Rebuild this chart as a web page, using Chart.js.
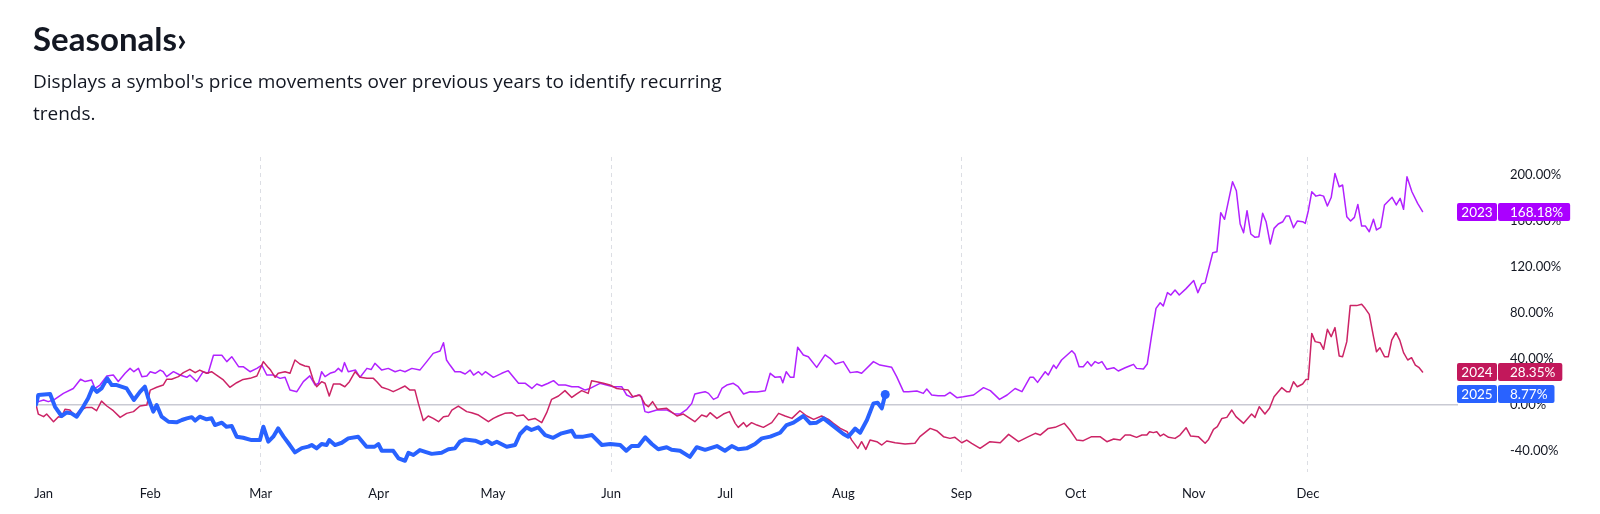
<!DOCTYPE html>
<html>
<head>
<meta charset="utf-8">
<title>Seasonals</title>
<script src="https://cdn.jsdelivr.net/npm/chart.js@4.4.1/dist/chart.umd.min.js"></script>
<style>
  body { margin: 0; background: #fff; color: #131722; font-family: Lato, "Noto Sans", sans-serif; }
  #wrap { position: relative; width: 1600px; height: 514px; overflow: hidden; }
  h2 { position: absolute; left: 33px; top: 22px; margin: 0; font-size: 33px; line-height: 33px; font-weight: 700; }
  p.sub { position: absolute; left: 33px; top: 65px; margin: 0; font-family: "Open Sans", sans-serif; font-size: 19px; line-height: 32px; }
  canvas { position: absolute; left: 0; top: 0; }
</style>
</head>
<body>
<div id="wrap">
  <canvas id="seasonals" width="1600" height="514"></canvas>
  <h2>Seasonals›</h2>
  <p class="sub">Displays a symbol's price movements over previous years to identify recurring<br>trends.</p>
</div>
<script>
// day of year (0 = Jan 1) and % change from the first day of the year
const days2025 = [
  0,0.6,3.7,5,6.7,8,9.3,10.7,12.4,13.7,
  14.9,16,17.2,18.7,19.9,21.2,23.8,25.7,27.3,28.6,
  29.5,30.8,31.7,33,34.8,36.9,38.3,39.6,40.9,41.8,
  43,44.8,46.1,47,48.8,50,51.4,52.7,54.4,56.6,
  58.8,59.7,61,62.3,63.6,65,66.3,68,69.8,71.5,
  72.4,73.7,75,76.3,77,78.5,80.3,82,84.6,86.8,
  88.9,89.9,90.8,93.8,95.2,96.9,97.8,99.1,100.8,102.2,
  103.9,106.5,108.3,110,111.3,112.7,115.3,117,118.4,119.7,
  121,123.6,125.8,127.1,128.8,130.1,131.9,133.7,135.8,138,
  140.7,141.6,143.7,146,148.6,150.8,153.4,155,156.4,158.2,
  160,161.7,163.4,165.6,166.9,169.1,171.7,173.5,175.7,178.8,
  180.9,182.7,184.4,186.6,188.8,190.6,192.8,195.4,197.1,198.9,
  201.5,203.3,205,206.8,209.4,212,213.3,215.1,216.4,218.2,
  219.9,221,222.1,223
];
const values2025 = [
  0,8.3,9.1,-2,-10,-7,-7.7,-10.6,-2,5.4,
  15,11,14,22.8,17,17,14,4,11,15.5,
  5.4,-6.2,-0.4,-10.6,-15,-15.5,-13.5,-12.1,-11,-14,
  -10.6,-12.9,-12,-17.9,-15.8,-19.3,-18.8,-28,-29,-31,
  -31,-19.3,-32.4,-28,-20.8,-28,-33.8,-41.7,-38,-36.7,
  -35.3,-38.2,-34.4,-35.3,-31,-35.3,-33.3,-29.5,-28,-36.8,
  -36.8,-34.4,-40.3,-40.3,-47,-49,-42,-44,-39.7,-41.2,
  -43,-42,-39,-38.2,-32.4,-30.4,-31.5,-33.8,-31.5,-34.4,
  -32.4,-36.8,-35.3,-25.7,-19.9,-22.2,-19.9,-26.6,-29,-25.1,
  -22.8,-28,-28,-26.6,-35.3,-34.4,-35.3,-40.3,-36.2,-36.2,
  -28.6,-34.4,-39,-37.2,-39.5,-40.3,-45.6,-37.2,-39.5,-36.2,
  -40.3,-36.2,-39,-38.2,-34.4,-29.5,-28,-24.6,-17.9,-15.8,
  -10,-16.4,-15.8,-12.1,-18.8,-25.7,-28,-21,-24.6,-13.5,
  1,1.5,-3.3,8.77
];

const days2024 = [
  0,0.6,2,2.8,4.6,5.9,6.7,7.6,8.9,10.2,
  11.6,13.3,14.6,15.9,17.2,18.6,20.3,22.1,23.8,25.6,
  27.3,29.1,30,31.7,33.4,34.3,35.6,37.4,38.7,40.4,
  41.8,43,43.9,44.8,46.1,47.4,49.2,50.9,52.7,54.4,
  56.2,58,59.7,60.8,61.6,62.8,63.6,65.4,66.7,68,
  69.3,70.6,71.7,72.8,73.7,75,75.9,77,78.1,79.8,
  81.1,82.3,83.8,85.1,86.9,88.6,89.5,90.8,92.5,93.8,
  95.1,96.9,98.2,99.5,100.4,101.7,103,104.3,105.7,107,
  108.3,109.2,110.9,113.1,114.4,116.2,117.9,118.8,120.1,121.4,
  123.1,124.9,126.2,128,129.3,131,132.8,134.1,135.4,137.2,
  138.9,140.7,142,143.3,145,145.9,147.2,149,150.7,152.5,
  154.2,155.5,156.7,158.6,159.9,160.8,161.9,163.2,165.6,168.3,
  170,173,174.8,176.1,177,178.8,180.5,182.1,183.6,184.4,
  185.8,186.6,187.9,189.3,191,193.2,195,196.7,198.5,200.6,
  202.4,204.2,206.3,208.1,209.4,211.2,213,214.2,215.8,216.8,
  217.9,219,220.8,222.1,223.4,225.6,228.2,230.8,232.1,234.8,
  236.5,238.3,240,241.3,243.1,244.4,245.7,247.9,250.5,253.2,
  255.4,258,260.2,262.4,263.7,265.8,267.6,270,271.5,273.3,
  275,277.2,279.4,281.2,283,284.7,286,287.3,289,290.4,
  291.7,292.4,293.4,294.3,295.2,296.1,297.4,299.1,300.4,302,
  303.2,305.2,307,307.9,309.2,310.2,311.4,312.7,314,315.1,
  317.1,319.2,320.1,321.2,322.7,323.9,325.1,327.1,328.4,329.2,
  330.2,331.2,332.6,333.5,334.1,335,335.9,337.2,338.1,339.1,
  340.1,341.1,342.2,343.1,344.2,345.1,346.8,348.1,349,350.1,
  351.2,352,352.9,354.1,355.1,356,357.1,358.1,359.1,360.2,
  361.2,362.2,363.1,364.1
];
const values2024 = [
  0,-8.3,-10.6,-8.3,-15,-10.6,-11.2,-4.2,-4.8,-10,
  -4.8,-2.5,-2.5,-5.4,3,-1.3,-5.4,-11.2,-7.7,-6.2,
  -1.3,-0.4,12.6,15,17,22,22,24.3,27.8,30.7,
  27.8,30,28.6,27.2,28.6,25.7,21.4,15,19,21.9,
  22.8,24.9,37.4,33,30,23.7,27.2,28.6,27.2,38.8,
  35.3,33.6,33,21.4,15.5,19.9,18.5,7.4,17.9,17.9,
  15.5,19.9,28.6,23.7,22.8,22.8,19.9,15,13.2,11.2,
  13.2,16.1,12.6,12.6,1,-14,-10,-12.1,-15,-10.6,
  -10,-4.8,-1.3,-6.2,-7.1,-9.2,-12.9,-15,-12.1,-10,
  -7.7,-7.1,-10,-9.2,-13.5,-12.1,-15.8,-7.1,4.5,7.4,
  12.1,6.2,9.2,12.1,9.7,20.8,19.9,18.5,17,14,
  13.2,12.6,6.8,8.3,0.4,-1.9,2.5,-4.2,-3.3,-10,
  -8.3,-15,-9.2,-10.6,-7.1,-12.1,-8.3,-6.2,-16.4,-19.9,
  -15.8,-19.3,-15.8,-17.9,-19.9,-15.8,-7.7,-10,-12.1,-5.4,
  -10,-12.9,-10,-12.9,-16.4,-20.8,-23.7,-31,-38.2,-32.4,
  -39.1,-31,-32.4,-35.3,-31.8,-33.3,-34.4,-33.8,-28,-20.8,
  -22.8,-28,-29.5,-28.6,-33.3,-31,-33.8,-38.2,-32.4,-33.3,
  -26,-32.4,-28.6,-25.1,-26.6,-20.8,-19.9,-16.4,-22.2,-31,
  -31.5,-28,-28,-32.4,-30,-31,-26.6,-26.6,-28.6,-26.6,
  -26.6,-23.7,-24.5,-23.7,-27.5,-25.8,-28.6,-29.5,-26.6,-20.2,
  -27.5,-28,-33.8,-30.4,-21.6,-19.3,-12.1,-11.2,-4.8,-10.6,
  -16.4,-8.3,-11.2,-1.9,-8.3,-3.3,6.8,14.7,11.2,11.2,
  19.9,15.5,17.9,21.9,21.9,62,54.8,53.9,48.1,65.5,
  59.1,67,42.3,41.7,54.8,86.2,86.2,87.3,83.8,78.6,
  59.1,46,49.5,41.7,41.7,56.2,62.6,56.2,45.2,38.8,
  40.8,34.4,32.4,28.35
];

const days2023 = [
  0,0.6,2,3.2,4.6,7.2,9.8,11.7,12.9,14.6,
  15.5,16.8,18.6,20.3,21.6,23.4,24.7,25.7,26.9,27.8,
  29.1,30,31.3,32.6,33.4,34.3,36.1,37.8,39.6,40.4,
  42.2,43.9,45.2,46.6,48.8,50.1,51.4,53.2,54.4,56.2,
  58,59.3,60.6,62.3,64.1,65.4,66.7,68.5,70.2,71.9,
  73.3,74.2,75,75.9,77.2,78.5,79.4,80.3,81,82,
  83.9,85.1,86.9,88,89,90.8,92.5,94.3,95.6,96.9,
  98.7,100.8,102.6,104.3,106.1,107,107.8,108.7,110,111.4,
  112.7,114,114.9,116.2,117.1,118,120.1,122.3,124,125.4,
  126.7,128.5,130.2,131.5,132.8,134.5,135.9,137.2,139,140.7,
  142.4,144.2,145.5,148.1,149.8,151.6,153.8,155.1,156.4,158.2,
  159,159.9,160.8,163,165.6,167.8,169.1,170.9,172.2,173,
  174.4,175.7,176.6,177.9,179,180.1,181.4,183.1,184.4,185.8,
  187.5,189.3,191.5,192.8,194.1,195.5,196.1,197,198.1,199,
  200,201.5,202.8,205,207.2,208.5,209.9,212,213.8,215.6,
  216.8,219.9,221.6,224.7,226,227.8,229.1,231.3,233,233.9,
  235.2,236.9,238.7,240,241.8,243.5,246.2,248.8,250.6,253,
  255,257.1,258.9,261,261.9,263,265,265.8,267.2,267.9,
  269.3,272,272.8,273.9,275,276.1,277.1,278.1,279,279.9,
  281.2,283,284.2,286,287.3,288.2,289,290.8,291.8,292.9,
  294.1,295.2,296,297.1,298,299.1,300.2,302,304,305.1,
  306.1,307,309,310.1,311.1,312.1,314.2,315.2,316.2,317.1,
  318,319,320.1,321.1,322.1,323,324.1,325.1,326.2,327.4,
  328.3,329.1,330.2,331.2,332.6,333.3,334.1,335,336.1,337.2,
  338.1,339.1,340.1,341.1,342.2,343.1,344.2,345.2,346.2,347.1,
  348.1,349.1,350.1,351.2,352,353.1,354.1,356.1,357.2,358.2,
  359.1,360,361.3,362.8,364.1
];
const values2023 = [
  0,2.5,3.9,2.5,3.9,9.7,14,22,20,21.4,
  14,17,24.9,25.7,20,27.2,31.5,28.6,31.5,24.3,
  24.9,28.6,27.2,30,28.6,24.3,28.6,25.7,23.7,25.7,
  20,28.6,27.2,43,43,37.4,41.7,33,33,28.6,
  31.5,34.4,25.7,25.7,22.8,23.7,12.6,11.2,20,25,
  17,18.5,28.6,24.3,27.2,28.6,31.5,28.6,36.5,28.6,
  30,23.7,31.5,30.5,35.9,30,31.5,28.6,30,28.6,
  31.5,30,37.4,44.6,46.6,53.9,38.8,34.4,28.6,28.6,
  26.6,30,25.7,28.6,25.7,28.6,23.7,27.2,29.5,23.7,
  18.5,18.5,14,17.9,16.1,18.5,20.8,17,17,15.5,
  15.5,12.6,14,18.5,17,15.5,15.5,8.3,6.2,8.3,
  6.8,-6.2,-7,-4.7,-4.7,-8.3,-8.3,-4.2,1,9.2,
  10.3,11.2,9.7,4.5,6.2,14,17,18.5,15.5,9.2,
  11.2,10.9,12.1,27.2,23.7,24.3,19,28.6,23.7,23.7,
  49.9,43.2,41.7,32.4,43.2,40.3,35.3,37.4,27.8,28.6,
  27.2,37.4,34.4,32.4,24.3,11.2,11.2,11.8,9.7,13.5,
  8.3,7.7,7.7,10.6,6,6.8,8.3,14.7,12.1,4.5,
  8.3,14,11.2,23.7,23.7,19.3,28.6,25.7,34.4,31.5,
  38.8,46.9,44,33,33,37.4,33.6,37.4,35.9,37.4,
  30.7,32.1,29.2,32,33.8,35,31.5,30.9,35.3,59.1,
  83.8,88.7,85.8,97.5,95.4,99.8,95.4,101,108,97.5,
  105,106,132.3,133.2,167.2,161.4,194.2,186.3,157.3,149.7,
  168.9,148.6,145.7,146.3,166.6,159.3,139.9,153.5,157.3,159.3,
  164.3,164.3,154.1,159.9,159.3,157.8,168.9,185.4,181.6,182.5,
  181.6,173,180.4,201.4,189.8,191.3,163.7,159.9,163.1,174.4,
  155.5,155.5,150.6,161.4,152.1,154.4,173.9,180.6,173.9,179.7,
  170.1,198.5,185.4,175.3,168.18
];

const monthNames = ['Jan','Feb','Mar','Apr','May','Jun','Jul','Aug','Sep','Oct','Nov','Dec'];
const monthDays = [2, 30, 59, 90, 120, 151, 181, 212, 243, 273, 304, 334];
const quarterDays = [59, 151, 243, 334];
const yTicks = [-40, 0, 40, 80, 120, 160, 200];

const toPoints = (days, values) => days.map((d, i) => ({ x: d, y: values[i] }));

// year / last value tags on the right edge
const badgePlugin = {
  id: 'badges',
  afterDraw(chart) {
    const { ctx, chartArea, scales: { y } } = chart;
    ctx.save();
    ctx.font = '13.5px Lato';
    ctx.textBaseline = 'middle';
    chart.data.datasets.forEach(ds => {
      const last = ds.data[ds.data.length - 1].y;
      const cy = Math.round(y.getPixelForValue(last));
      const txt = last.toFixed(2) + '%';
      const x0 = chartArea.right - 1;
      const textX = y.left + 52;
      const w = ctx.measureText(txt).width;
      ctx.fillStyle = ds.badgeColor;
      ctx.beginPath();
      ctx.roundRect(x0, cy - 9, 40, 18, 2);
      ctx.fill();
      ctx.beginPath();
      ctx.roundRect(x0 + 41, cy - 9, textX + w + 7 - (x0 + 41), 18, 2);
      ctx.fill();
      ctx.fillStyle = '#fff';
      ctx.textAlign = 'center';
      ctx.fillText(ds.label, x0 + 20, cy + 0.5);
      ctx.textAlign = 'left';
      ctx.fillText(txt, textX, cy + 0.5);
    });
    ctx.restore();
  }
};

const tickFont = { family: 'Lato', size: 13 };

new Chart(document.getElementById('seasonals'), {
  type: 'line',
  data: {
    datasets: [
      {
        label: '2025', data: toPoints(days2025, values2025),
        borderColor: '#2962FF', badgeColor: '#2962FF', borderWidth: 4,
        pointRadius: c => c.dataIndex === days2025.length - 1 ? 4.5 : 0,
        pointBackgroundColor: '#2962FF', pointBorderWidth: 0
      },
      {
        label: '2024', data: toPoints(days2024, values2024),
        borderColor: '#CC2466', badgeColor: '#C2185B', borderWidth: 1.5
      },
      {
        label: '2023', data: toPoints(days2023, values2023),
        borderColor: '#B121FF', badgeColor: '#AA00FF', borderWidth: 1.5
      }
    ]
  },
  options: {
    responsive: false,
    animation: false,
    devicePixelRatio: 1,
    layout: { padding: { left: 36, top: 157, right: 0, bottom: 0 } },
    plugins: { legend: { display: false }, tooltip: { enabled: false } },
    elements: {
      line: { tension: 0, borderJoinStyle: 'round', borderCapStyle: 'round' },
      point: { radius: 0, hoverRadius: 0 }
    },
    scales: {
      x: {
        type: 'linear', min: 0, max: 373.4,
        afterBuildTicks: s => { s.ticks = monthDays.map(v => ({ value: v })); },
        afterFit: s => { s.height = 42; s.paddingLeft = 0; s.paddingRight = 0; },
        ticks: {
          autoSkip: false, maxRotation: 0, padding: 14, color: '#131722', font: tickFont,
          callback: (v, i) => monthNames[i]
        },
        grid: {
          drawTicks: false, lineWidth: 1,
          color: c => (c.tick && quarterDays.includes(c.tick.value)) ? '#dcdee4' : 'rgba(0,0,0,0)'
        },
        border: { display: false, dash: [4, 4] }
      },
      y: {
        position: 'right', min: -58.8, max: 215.7,
        afterBuildTicks: s => { s.ticks = yTicks.map(v => ({ value: v })); },
        // the big tick padding would otherwise also pad the plot top and bottom
        afterFit: s => { s.width = 142; s.paddingTop = 0; s.paddingBottom = 0; },
        ticks: {
          padding: 52, color: '#131722', font: tickFont,
          callback: v => v.toFixed(2) + '%'
        },
        grid: {
          drawTicks: false, lineWidth: 1.5,
          color: c => (c.tick && c.tick.value === 0) ? '#c9cad3' : 'rgba(0,0,0,0)'
        },
        border: { display: false }
      }
    }
  },
  plugins: [badgePlugin]
});
</script>
</body>
</html>
